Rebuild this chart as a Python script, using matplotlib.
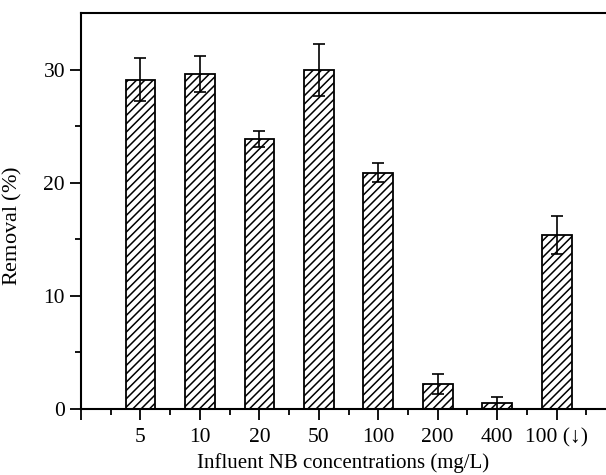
import numpy as np
import matplotlib.pyplot as plt

plt.rcParams['font.family'] = ['Liberation Serif', 'DejaVu Serif']
plt.rcParams['mathtext.fontset'] = 'custom'
plt.rcParams['mathtext.it'] = 'Liberation Serif:italic'
plt.rcParams['mathtext.rm'] = 'Liberation Serif'
plt.rcParams['hatch.linewidth'] = 1.1

labels = ['5', '10', '20', '50', '100', '200', '400', '100 (\u2193)']
removal = [29.1, 29.6, 23.9, 30.0, 20.9, 2.2, 0.5, 15.4]
errors = [1.9, 1.6, 0.7, 2.3, 0.8, 0.85, 0.55, 1.7]

fig = plt.figure(figsize=(6.06, 4.75), dpi=100)
ax = fig.add_axes([81/606, 66/475, 1 - 81/606, (409 - 13)/475])

x = np.arange(1, len(labels) + 1)
ax.bar(x, removal, width=0.5, color='white', edgecolor='black',
       linewidth=1.3, hatch='////', zorder=2)
ax.errorbar(x, removal, yerr=errors, fmt='none', ecolor='black',
            elinewidth=1.2, capsize=4, capthick=1.2, zorder=3)

ax.set_xlim(0, 8.83)
ax.set_ylim(0, 35)
ax.set_xticks(np.arange(0, 9))
ax.set_xticklabels([''] + labels)
ax.set_xticks(np.arange(0.5, 9, 1), minor=True)
ax.set_yticks([0, 10, 20, 30])
ax.set_yticks([5, 15, 25], minor=True)

ax.spines['right'].set_visible(False)
for s in ['left', 'bottom', 'top']:
    ax.spines[s].set_linewidth(1.5)
ax.tick_params(which='major', direction='out', length=8, width=1.3,
               labelsize=15.5, top=False, right=False)
ax.tick_params(which='minor', direction='out', length=4, width=1.3,
               top=False, right=False)
ax.tick_params(axis='x', pad=6)

ax.set_xlabel('Influent NB concentrations (mg/L)', fontsize=15, labelpad=4)
ax.set_ylabel('Removal ($\\it{\\%}$)', fontsize=16)
ax.yaxis.set_label_coords(-0.108, 0.462)

fig.savefig('out.png', dpi=100)
